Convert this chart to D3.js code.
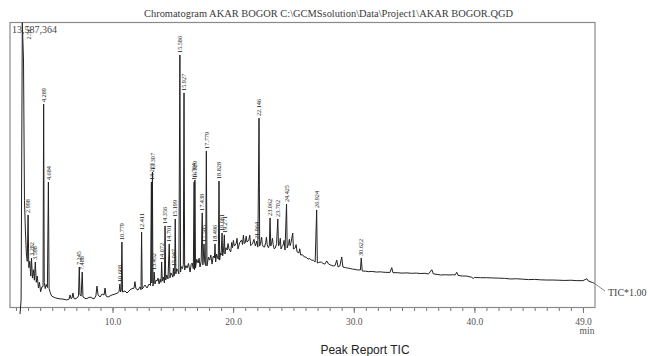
<!DOCTYPE html>
<html>
<head>
<meta charset="utf-8">
<script src="https://cdn.jsdelivr.net/npm/d3@7"></script>
<style>
  body { margin: 0; background: #fff; }
  svg { display: block; }
</style>
</head>
<body>
<svg width="648" height="356"></svg>
<script>
const title = "Chromatogram AKAR BOGOR C:\\GCMSsolution\\Data\\Project1\\AKAR BOGOR.QGD";
const maxIntensity = 13587364;
const timeRange = [1.5, 50];
const majorTicks = [10, 20, 30, 40, 49];
const minorTicks = d3.range(2, 50);

// TIC trace: [retention time (min), intensity (x10^6 counts)]
const trace = [
  [2.33, -0.31], [2.42, 0.36], [2.52, 13.587], [2.62, 11.8], [2.70, 5.1], [2.78, 3.6],
  [2.86, 2.55], [2.93, 2.2], [2.998, 4.41], [3.06, 1.9], [3.14, 2.2], [3.22, 1.5],
  [3.282, 2.36], [3.36, 1.4], [3.44, 1.8], [3.52, 1.3], [3.598, 2.17], [3.68, 1.2],
  [3.76, 1.5], [3.86, 0.93], [3.94, 1.2], [4.04, 0.75], [4.14, 0.98], [4.24, 1.0],
  [4.289, 9.7], [4.34, 1.2], [4.42, 0.9], [4.50, 1.1], [4.60, 0.95], [4.684, 5.98],
  [4.74, 0.9], [4.84, 0.7], [4.95, 0.55], [5.07, 0.51], [5.3, 0.45], [5.65, 0.41],
  [5.9, 0.4], [6.2, 0.36], [6.4, 0.4], [6.48, 0.6], [6.56, 0.42], [6.64, 0.45],
  [6.72, 0.69], [6.80, 0.43], [6.89, 0.41], [7.05, 0.45], [7.18, 0.55], [7.245, 1.93],
  [7.30, 0.6], [7.40, 0.55], [7.488, 1.69], [7.55, 0.5], [7.8, 0.41], [8.13, 0.5],
  [8.47, 0.41], [8.62, 0.55], [8.71, 1.02], [8.80, 0.6], [8.96, 0.5], [9.13, 0.64],
  [9.30, 0.6], [9.38, 0.93], [9.46, 0.55], [9.63, 0.5], [9.96, 0.6], [10.21, 0.64],
  [10.45, 0.7], [10.55, 0.78], [10.608, 1.12], [10.66, 0.74], [10.72, 0.8], [10.779, 3.12],
  [10.83, 0.74], [11.04, 0.79], [11.20, 0.69], [11.53, 0.88], [11.78, 0.92], [11.86, 1.23],
  [11.94, 0.9], [12.11, 0.83], [12.28, 0.98], [12.36, 0.85], [12.411, 3.6], [12.46, 0.88],
  [12.60, 1.0], [12.69, 1.07], [12.86, 0.93], [13.03, 1.12], [13.15, 1.05], [13.223, 5.98],
  [13.26, 1.17], [13.307, 6.46], [13.35, 1.02], [13.40, 1.15], [13.452, 1.69], [13.52, 1.12],
  [13.60, 1.3], [13.69, 1.26], [13.78, 1.4], [13.86, 1.12], [13.95, 1.35], [14.02, 1.2],
  [14.072, 2.17], [14.13, 1.26], [14.22, 1.45], [14.30, 1.17], [14.356, 3.89], [14.41, 1.31],
  [14.50, 1.55], [14.60, 1.36], [14.701, 3.03], [14.76, 1.41], [14.85, 1.65], [14.93, 1.55],
  [15.00, 1.45], [15.047, 1.88], [15.10, 1.5], [15.15, 1.7], [15.199, 4.22], [15.25, 1.6],
  [15.32, 1.85], [15.40, 1.79], [15.50, 1.6], [15.586, 12.04], [15.64, 1.69], [15.70, 1.95],
  [15.80, 1.85], [15.87, 2.05], [15.927, 10.23], [15.98, 1.79], [16.08, 2.0], [16.18, 1.88],
  [16.30, 2.1], [16.43, 1.69], [16.52, 2.05], [16.60, 2.12], [16.70, 1.85], [16.764, 5.98],
  [16.80, 1.79], [16.829, 6.08], [16.88, 1.88], [16.98, 2.3], [17.10, 2.12], [17.18, 2.35],
  [17.25, 1.93], [17.35, 2.2], [17.438, 4.51], [17.49, 2.03], [17.585, 3.03], [17.64, 2.17],
  [17.72, 2.0], [17.779, 7.46], [17.83, 1.98], [17.95, 2.4], [18.05, 2.26], [18.15, 2.5],
  [18.25, 2.07], [18.35, 2.45], [18.45, 2.36], [18.496, 3.03], [18.55, 2.17], [18.63, 2.55],
  [18.70, 2.41], [18.77, 2.3], [18.828, 6.03], [18.88, 2.26], [18.95, 2.6], [19.00, 2.5],
  [19.081, 3.55], [19.13, 2.46], [19.20, 2.7], [19.271, 3.46], [19.32, 2.55], [19.40, 2.85],
  [19.50, 2.74], [19.58, 3.05], [19.65, 2.8], [19.80, 2.65], [19.88, 3.1], [19.95, 2.85],
  [20.02, 3.2], [20.10, 2.93], [20.25, 3.05], [20.32, 3.3], [20.40, 2.79], [20.55, 3.1],
  [20.70, 3.22], [20.78, 3.0], [20.85, 3.45], [20.92, 3.05], [21.00, 3.08], [21.08, 3.4],
  [21.15, 3.12], [21.30, 3.22], [21.38, 3.45], [21.45, 2.95], [21.60, 3.03], [21.72, 3.25],
  [21.85, 2.93], [21.964, 3.17], [22.05, 2.88], [22.146, 9.03], [22.20, 2.93], [22.30, 3.15],
  [22.36, 3.35], [22.42, 3.0], [22.50, 2.9], [22.60, 2.88], [22.70, 3.1], [22.76, 3.35],
  [22.82, 3.0], [22.92, 2.85], [23.00, 2.95], [23.062, 4.27], [23.12, 2.93], [23.20, 3.1],
  [23.26, 3.3], [23.32, 3.0], [23.40, 2.8], [23.50, 2.84], [23.60, 3.05], [23.702, 4.22],
  [23.76, 2.93], [23.85, 3.05], [23.91, 3.3], [23.97, 2.79], [24.05, 2.9], [24.15, 2.98],
  [24.22, 3.2], [24.30, 2.74], [24.425, 4.93], [24.48, 2.84], [24.60, 3.05], [24.66, 3.25],
  [24.72, 2.95], [24.80, 3.1], [24.94, 3.55], [25.00, 2.79], [25.15, 2.85], [25.22, 3.0],
  [25.30, 2.65], [25.45, 2.6], [25.52, 2.8], [25.60, 2.5], [25.75, 2.52], [25.90, 2.41],
  [26.05, 2.4], [26.20, 2.31], [26.35, 2.33], [26.50, 2.26], [26.65, 2.25], [26.80, 2.17],
  [26.924, 4.65], [26.98, 2.12], [27.10, 2.15], [27.30, 2.17], [27.45, 2.1], [27.60, 2.07],
  [27.76, 2.22], [27.90, 2.08], [28.10, 2.02], [28.30, 1.98], [28.45, 2.0], [28.59, 2.26],
  [28.70, 1.93], [28.85, 1.98], [29.00, 2.41], [29.10, 1.93], [29.30, 1.9], [29.50, 1.88],
  [29.70, 1.86], [29.90, 1.83], [30.10, 1.82], [30.30, 1.79], [30.55, 1.79], [30.622, 2.36],
  [30.70, 1.74], [31.00, 1.73], [31.20, 1.71], [31.50, 1.72], [31.90, 1.69], [32.20, 1.7],
  [32.50, 1.68], [33.00, 1.67], [33.15, 1.9], [33.25, 1.66], [33.60, 1.66], [34.00, 1.64],
  [34.40, 1.65], [34.80, 1.63], [35.20, 1.64], [35.50, 1.62], [35.90, 1.63], [36.20, 1.6],
  [36.47, 1.8], [36.60, 1.6], [36.90, 1.58], [37.20, 1.55], [37.60, 1.56], [37.90, 1.55],
  [38.20, 1.56], [38.40, 1.55], [38.54, 1.68], [38.65, 1.53], [39.00, 1.5], [39.37, 1.5],
  [39.78, 1.44], [39.90, 1.38], [40.00, 1.43], [40.50, 1.42], [41.00, 1.42], [41.50, 1.41],
  [42.00, 1.4], [42.50, 1.39], [43.00, 1.36], [43.50, 1.37], [44.00, 1.35], [44.50, 1.33],
  [45.00, 1.34], [45.50, 1.32], [46.00, 1.31], [46.50, 1.31], [47.00, 1.3], [47.50, 1.29],
  [48.00, 1.3], [48.50, 1.28], [49.00, 1.28], [49.32, 1.37], [49.45, 1.26], [49.80, 1.19],
  [49.95, 1.15]
];

// labelled peaks (retention time, min)
const peakTimes = [
  2.517, 2.998, 3.282, 3.598, 4.289, 4.684, 7.245, 7.488, 10.608, 10.779, 12.411,
  13.223, 13.307, 13.452, 14.072, 14.356, 14.701, 15.047, 15.199, 15.586, 15.927,
  16.764, 16.829, 17.438, 17.585, 17.779, 18.496, 18.828, 19.081, 19.271, 21.964,
  22.146, 23.062, 23.702, 24.425, 26.924, 30.622
];

const svg = d3.select("svg");
const frame = { left: 10, top: 22.5, right: 595, bottom: 307.5 };

const x = d3.scaleLinear().domain(timeRange).range([frame.left, frame.right]);
const y = d3.scaleLinear().domain([0, maxIntensity / 1e6]).range([frame.bottom, frame.top]);

// apex height of a labelled peak, taken from the nearest trace point
function apexOf(t) {
  const i = d3.leastIndex(trace, d => Math.abs(d[0] - t));
  return trace[i][1];
}

svg.append("text")
  .attr("x", 144)
  .attr("y", 16.5)
  .attr("textLength", 369)
  .attr("lengthAdjust", "spacingAndGlyphs")
  .attr("font-family", "Liberation Serif, serif")
  .attr("font-size", 10.5)
  .attr("fill", "#3a3a3a")
  .text(title);

svg.append("defs").append("clipPath").attr("id", "plot")
  .append("rect")
  .attr("x", frame.left).attr("y", frame.top)
  .attr("width", frame.right - frame.left)
  .attr("height", frame.bottom - frame.top + 8);

svg.append("rect")
  .attr("x", frame.left).attr("y", frame.top)
  .attr("width", frame.right - frame.left)
  .attr("height", frame.bottom - frame.top)
  .attr("fill", "none")
  .attr("stroke", "#8a8a8a")
  .attr("stroke-width", 1.2);

// axes
const minorAxis = d3.axisBottom(x).tickValues(minorTicks).tickSize(3).tickFormat("");
const majorAxis = d3.axisBottom(x).tickValues(majorTicks).tickSize(5).tickPadding(5)
  .tickFormat(d3.format(".1f"));

[minorAxis, majorAxis].forEach(axis => {
  const g = svg.append("g")
    .attr("transform", `translate(0,${frame.bottom + 0.5})`)
    .call(axis);
  g.select(".domain").remove();
  g.selectAll("line").attr("stroke", "#777");
  g.selectAll("text")
    .attr("font-family", "Liberation Serif, serif")
    .attr("font-size", 9.5)
    .attr("fill", "#555");
});

svg.append("text")
  .attr("x", 587).attr("y", 334)
  .attr("text-anchor", "middle")
  .attr("font-family", "Liberation Serif, serif")
  .attr("font-size", 9.5)
  .attr("fill", "#555")
  .text("min");

// trace
const line = d3.line().x(d => x(d[0])).y(d => y(d[1]));
svg.append("path")
  .datum(trace)
  .attr("clip-path", "url(#plot)")
  .attr("d", line)
  .attr("fill", "none")
  .attr("stroke", "#222")
  .attr("stroke-width", 1)
  .attr("stroke-linejoin", "round");

// peak labels
const fmt = d3.format(".3f");
svg.append("g")
  .selectAll("text")
  .data(peakTimes)
  .join("text")
  .attr("transform", t => {
    let px = x(t), py = y(apexOf(t)) - 2;
    if (py - 17 < frame.top) { px += 7; py = frame.top + 17; }
    return `translate(${px},${py}) rotate(-90)`;
  })
  .attr("dy", "0.35em")
  .attr("font-family", "Liberation Serif, serif")
  .attr("font-size", 6.2)
  .attr("fill", "#222")
  .text(fmt);

svg.append("text")
  .attr("x", 12).attr("y", 33)
  .attr("font-family", "Liberation Serif, serif")
  .attr("font-size", 10)
  .attr("fill", "#444")
  .text(d3.format(",")(maxIntensity));

// TIC tag at the end of the trace
const last = trace[trace.length - 1];
svg.append("line")
  .attr("x1", x(last[0])).attr("y1", y(last[1]))
  .attr("x2", 605).attr("y2", 291)
  .attr("stroke", "#666").attr("stroke-width", 0.8);
svg.append("text")
  .attr("x", 608).attr("y", 296)
  .attr("font-family", "Liberation Serif, serif")
  .attr("font-size", 10)
  .attr("fill", "#444")
  .text("TIC*1.00");

svg.append("text")
  .attr("x", 365).attr("y", 354)
  .attr("text-anchor", "middle")
  .attr("font-family", "Liberation Sans, Arial, sans-serif")
  .attr("font-size", 12)
  .attr("fill", "#222")
  .text("Peak Report TIC");
</script>
</body>
</html>
